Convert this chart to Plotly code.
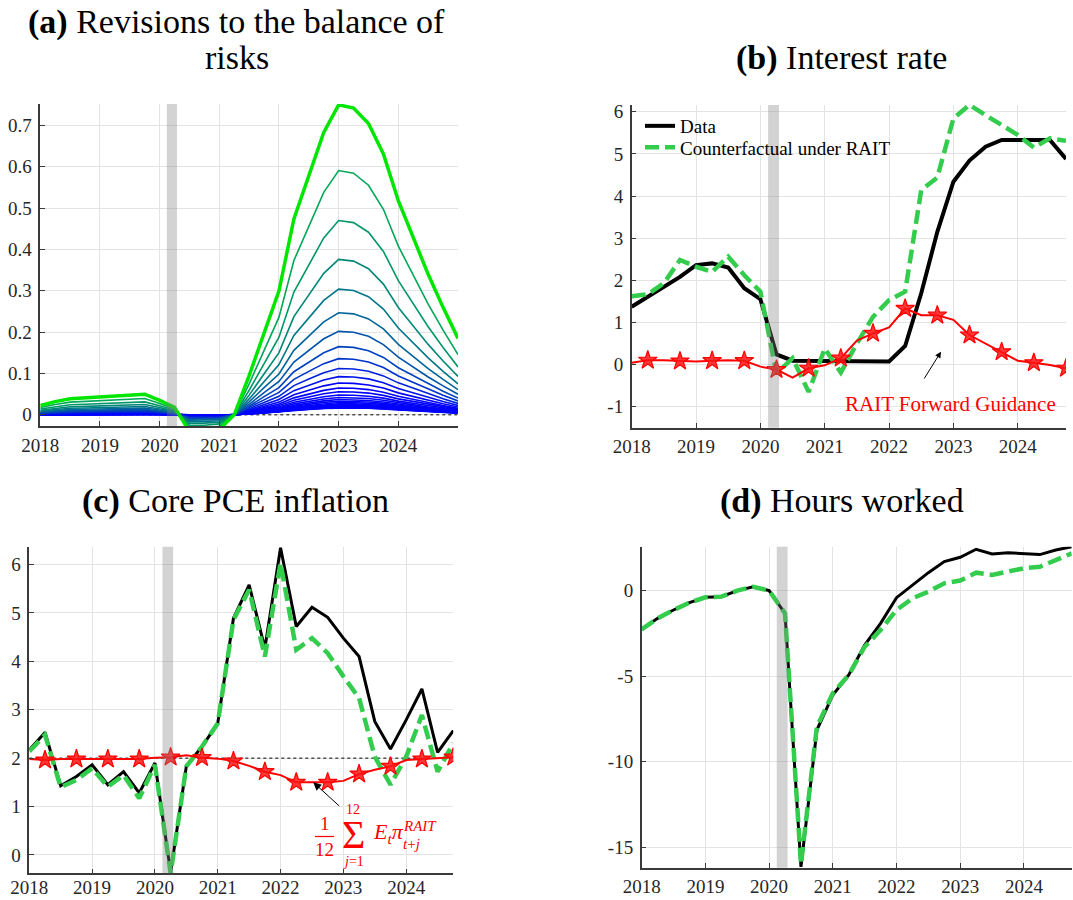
import plotly.graph_objects as go

W, H = 1073, 900

# ---------------- data ----------------
quarters = [2018 + 0.25 * i for i in range(28)]      # 2018Q1 .. 2024Q4
quarters_a = [2018 + 0.25 * i for i in range(29)]    # 2018 .. 2025
year_ticks = [2018, 2019, 2020, 2021, 2022, 2023, 2024]
recession = [2020.12, 2020.29]

# (a) revisions to the balance of risks: outer (largest) profile and the peak of each curve
risk_base = [0.0225, 0.032, 0.039, 0.041, 0.043, 0.044, 0.048, 0.050, 0.035, 0.018,
             -0.040, -0.040, -0.035, 0.000, 0.095, 0.200, 0.300, 0.474, 0.580, 0.683,
             0.750, 0.742, 0.705, 0.631, 0.518, 0.430, 0.340, 0.260, 0.185]
risk_peaks = [0.75, 0.591, 0.470, 0.376, 0.304, 0.247, 0.202, 0.165, 0.136, 0.112,
              0.0925, 0.077, 0.065, 0.056, 0.048, 0.042, 0.037, 0.033, 0.030, 0.027,
              0.025, 0.023, 0.021, 0.020, 0.019, 0.018, 0.017]

# (b) interest rate
rate_data = [1.37, 1.61, 1.85, 2.08, 2.36, 2.40, 2.30, 1.81, 1.55, 0.24, 0.09, 0.09, 0.09, 0.07,
             0.08, 0.08, 0.07, 0.44, 1.69, 3.15, 4.34, 4.84, 5.17, 5.33, 5.33, 5.33, 5.33, 4.88]
rate_cf = [1.62, 1.67, 1.93, 2.48, 2.32, 2.20, 2.56, 2.12, 1.73, -0.21, 0.15, -0.65, 0.38, -0.19,
           0.50, 1.13, 1.53, 1.73, 4.14, 4.44, 5.84, 6.16, 5.92, 5.68, 5.45, 5.15, 5.37, 5.31]
rate_fg = [0.04, 0.10, 0.10, 0.08, 0.07, 0.09, 0.10, 0.09, -0.05, -0.12, -0.31, -0.09, -0.02, 0.15,
           0.57, 0.74, 0.88, 1.33, 1.17, 1.17, 1.06, 0.70, 0.50, 0.30, 0.09, 0.04, -0.01, -0.09]

# (c) core PCE inflation
infl_data = [2.17, 2.53, 1.43, 1.62, 1.86, 1.45, 1.72, 1.28, 1.90, -0.36, 1.83, 2.24, 2.72, 4.89,
             5.58, 4.27, 6.35, 4.72, 5.12, 4.91, 4.48, 4.10, 2.76, 2.19, 2.79, 3.43, 2.12, 2.57]
infl_cf = [2.14, 2.48, 1.40, 1.55, 1.79, 1.41, 1.65, 1.17, 1.86, -0.38, 1.83, 2.24, 2.72, 4.86,
           5.48, 4.10, 6.03, 4.24, 4.48, 4.17, 3.69, 3.24, 2.03, 1.45, 2.03, 2.89, 1.72, 2.31]
infl_fg = [1.98, 1.96, 1.98, 1.98, 1.98, 1.98, 1.98, 1.98, 2.01, 2.02, 2.06, 2.01, 1.99, 1.94,
           1.84, 1.72, 1.65, 1.50, 1.50, 1.50, 1.53, 1.67, 1.76, 1.83, 1.96, 1.98, 1.99, 2.02]
infl_target = 2.0

# (d) hours worked
hours_data = [-2.26, -1.62, -1.13, -0.70, -0.39, -0.35, 0.00, 0.23, 0.00, -1.33, -16.15, -8.15,
              -6.10, -4.93, -3.18, -1.91, -0.41, 0.33, 1.05, 1.70, 1.95, 2.42, 2.15, 2.22, 2.18,
              2.11, 2.38, 2.57]
hours_cf = [-2.26, -1.62, -1.13, -0.70, -0.39, -0.35, 0.00, 0.23, 0.00, -1.33, -16.00, -7.96,
            -6.00, -4.93, -3.28, -2.30, -1.13, -0.45, -0.06, 0.43, 0.59, 1.05, 0.92, 1.11, 1.31,
            1.40, 1.79, 2.18]

# ---------------- style ----------------
FONT = "'Liberation Serif', 'Times New Roman', 'DejaVu Serif', serif"
GREEN = "rgb(51,204,77)"
RED = "#ff0000"
AXC = "#3a3a3a"
GRID = "#e3e3e3"
CF_DASH = "14px,6px"
STAR = dict(symbol="star", size=14, color="rgba(255,20,20,0.85)", line=dict(color=RED, width=1.2))


def px_x(px):
    return px / W


def px_y(py):
    return 1 - py / H


# plot areas in pixels (left, right, top, bottom)
boxes = {
    "a": (40.3, 458.0, 104.0, 426.0),
    "b": (631.7, 1066.0, 105.0, 427.7),
    "c": (29.3, 453.3, 546.7, 873.3),
    "d": (641.7, 1071.7, 546.7, 867.7),
}
axis_ids = {"a": ("x", "y"), "b": ("x2", "y2"), "c": ("x3", "y3"), "d": ("x4", "y4")}
x_standoff = {"a": 1, "b": 1, "c": -4, "d": 1}

fig = go.Figure()

# ---- (a) ----
base_peak = max(risk_base)
n = len(risk_peaks)
for k in reversed(range(n)):
    if k == 0:
        col, wid = "rgb(0,230,0)", 3.5
    else:
        t = min(k / 11.0, 1.0)
        col = "rgb(0,%d,%d)" % (round(185 * (1 - t)), round(70 + 185 * t))
        wid = 1.6
    scale = risk_peaks[k] / base_peak
    fig.add_trace(go.Scatter(x=quarters_a, y=[v * scale for v in risk_base], mode="lines",
                             line=dict(color=col, width=wid), showlegend=False,
                             xaxis="x", yaxis="y", hoverinfo="skip"))

# ---- (b) ----
fig.add_trace(go.Scatter(x=quarters, y=rate_data, mode="lines", name="Data", legend="legend",
                         line=dict(color="black", width=4), xaxis="x2", yaxis="y2"))
fig.add_trace(go.Scatter(x=quarters, y=rate_cf, mode="lines", name="Counterfactual under RAIT",
                         legend="legend2",
                         line=dict(color=GREEN, width=4.5, dash=CF_DASH), xaxis="x2", yaxis="y2"))
fig.add_trace(go.Scatter(x=quarters, y=rate_fg, mode="lines", showlegend=False,
                         line=dict(color=RED, width=2), xaxis="x2", yaxis="y2"))
fig.add_trace(go.Scatter(x=quarters[1::2], y=rate_fg[1::2], mode="markers", showlegend=False,
                         marker=STAR, xaxis="x2", yaxis="y2"))

# ---- (c) ----
fig.add_trace(go.Scatter(x=quarters, y=infl_data, mode="lines", showlegend=False,
                         line=dict(color="black", width=3), xaxis="x3", yaxis="y3"))
fig.add_trace(go.Scatter(x=quarters, y=infl_cf, mode="lines", showlegend=False,
                         line=dict(color=GREEN, width=4.5, dash=CF_DASH), xaxis="x3", yaxis="y3"))
fig.add_trace(go.Scatter(x=quarters, y=infl_fg, mode="lines", showlegend=False,
                         line=dict(color=RED, width=2), xaxis="x3", yaxis="y3"))
fig.add_trace(go.Scatter(x=quarters[1::2], y=infl_fg[1::2], mode="markers", showlegend=False,
                         marker=STAR, xaxis="x3", yaxis="y3"))

# ---- (d) ----
fig.add_trace(go.Scatter(x=quarters, y=hours_data, mode="lines", showlegend=False,
                         line=dict(color="black", width=3), xaxis="x4", yaxis="y4"))
fig.add_trace(go.Scatter(x=quarters, y=hours_cf, mode="lines", showlegend=False,
                         line=dict(color=GREEN, width=4.5, dash=CF_DASH), xaxis="x4", yaxis="y4"))

# ---------------- axes ----------------
yranges = {"a": [-0.027, 0.752], "b": [-1.5, 6.16], "c": [-0.38, 6.37], "d": [-16.2, 2.57]}
xranges = {"a": [2018, 2025], "b": [2018, 2024.75], "c": [2018, 2024.75], "d": [2018, 2024.75]}
yticks = {
    "a": ([0, 0.1, 0.2, 0.3, 0.4, 0.5, 0.6, 0.7], ["0", "0.1", "0.2", "0.3", "0.4", "0.5", "0.6", "0.7"]),
    "b": ([-1, 0, 1, 2, 3, 4, 5, 6], ["-1", "0", "1", "2", "3", "4", "5", "6"]),
    "c": ([0, 1, 2, 3, 4, 5, 6], ["0", "1", "2", "3", "4", "5", "6"]),
    "d": ([-15, -10, -5, 0], ["-15", "-10", "-5", "0"]),
}

layout_axes = {}
for key, (l, r, t, b) in boxes.items():
    xa, ya = axis_ids[key]
    xname = "xaxis" if xa == "x" else "xaxis" + xa[1:]
    yname = "yaxis" if ya == "y" else "yaxis" + ya[1:]
    layout_axes[xname] = dict(
        domain=[px_x(l), px_x(r)], range=xranges[key], anchor=ya, automargin=False,
        tickvals=year_ticks, ticktext=[str(v) for v in year_ticks],
        showgrid=True, gridcolor=GRID, gridwidth=1, zeroline=False,
        showline=True, linecolor=AXC, linewidth=1.5,
        ticks="inside", ticklen=5, tickcolor=AXC, tickwidth=1,
        tickfont=dict(family=FONT, size=19, color="#262626"),
        ticklabelstandoff=x_standoff[key], fixedrange=True,
    )
    tv, tt = yticks[key]
    layout_axes[yname] = dict(
        domain=[px_y(b), px_y(t)], range=yranges[key], anchor=xa, automargin=False,
        tickvals=tv, ticktext=tt,
        showgrid=True, gridcolor=GRID, gridwidth=1, zeroline=False,
        showline=True, linecolor=AXC, linewidth=1.5,
        ticks="inside", ticklen=5, tickcolor=AXC, tickwidth=1,
        tickfont=dict(family=FONT, size=19, color="#262626"),
        ticklabelstandoff=3, fixedrange=True,
    )

# ---------------- shapes ----------------
shapes = []
for key in boxes:
    xa, ya = axis_ids[key]
    shapes.append(dict(type="rect", xref=xa, yref=ya + " domain", x0=recession[0], x1=recession[1],
                       y0=0, y1=1, fillcolor="rgba(128,128,128,0.35)", line=dict(width=0),
                       layer="above"))
shapes.append(dict(type="line", xref="x", yref="y", x0=xranges["a"][0], x1=xranges["a"][1],
                   y0=0, y1=0, line=dict(color="black", width=1, dash="dot"), layer="between"))
shapes.append(dict(type="line", xref="x3", yref="y3", x0=xranges["c"][0], x1=xranges["c"][1],
                   y0=infl_target, y1=infl_target, line=dict(color="black", width=1, dash="dot"),
                   layer="between"))
# fraction bar of the formula label
shapes.append(dict(type="line", xref="paper", yref="paper", x0=px_x(315), x1=px_x(334),
                   y0=px_y(836.5), y1=px_y(836.5), line=dict(color=RED, width=1.2)))

# ---------------- annotations ----------------
ann = []


def text_at(txt, cx, baseline, size, color="black", xanchor="center"):
    # place text so that its baseline sits at pixel row `baseline`
    bottom = baseline + 0.216 * size + 1
    ann.append(dict(text=txt, x=px_x(cx), y=px_y(bottom), xref="paper", yref="paper",
                    xanchor=xanchor, yanchor="bottom", showarrow=False,
                    font=dict(family=FONT, size=size, color=color)))


TS = 34
text_at("<b>(a)</b> Revisions to the balance of", 236.7, 34.5, TS)
text_at("risks", 236.7, 70.0, TS)
text_at("<b>(b)</b> Interest rate", 841.7, 70.5, TS)
text_at("<b>(c)</b> Core PCE inflation", 235.5, 514.0, TS)
text_at("<b>(d)</b> Hours worked", 841.7, 514.0, TS)

text_at("RAIT Forward Guidance", 950.0, 412.0, 21, RED)

# formula label in panel (c)
text_at("1", 324.5, 830.5, 19, RED)
text_at("12", 324.5, 856.5, 19, RED)
text_at("\u03a3", 353.3, 849.5, 40, RED)
text_at("12", 353.3, 815.0, 14, RED)
text_at("<i>j</i>=1", 353.3, 867.0, 14, RED)
text_at("<i>E</i><sub><i>t</i></sub><i>\u03c0</i>", 370.5, 843.0, 22, RED, xanchor="left")
text_at("<i>RAIT</i>", 401.0, 832.0, 15, RED, xanchor="left")
text_at("<i>t</i>+<i>j</i>", 401.0, 850.0, 15, RED, xanchor="left")

# arrows
ann.append(dict(text="", x=px_x(941), y=px_y(351.7), xref="paper", yref="paper",
                ax=-17.7, ay=28.3, showarrow=True, arrowhead=2, arrowsize=1.2, arrowwidth=1,
                arrowcolor="black"))
ann.append(dict(text="", x=px_x(313.3), y=px_y(782.3), xref="paper", yref="paper",
                ax=27.4, ay=25.0, showarrow=True, arrowhead=2, arrowsize=1.6, arrowwidth=1,
                arrowcolor="black"))

LEG = dict(xanchor="left", yanchor="middle", bgcolor="rgba(0,0,0,0)", borderwidth=0,
           font=dict(family=FONT, size=19, color="black"), itemwidth=30)
fig.update_layout(
    width=W, height=H, margin=dict(l=0, r=0, t=0, b=0, autoexpand=False),
    paper_bgcolor="white", plot_bgcolor="white",
    font=dict(family=FONT, color="black"),
    showlegend=True,
    legend=dict(x=px_x(640), y=px_y(126), **LEG),
    legend2=dict(x=px_x(640), y=px_y(147.5), **LEG),
    shapes=shapes, annotations=ann,
    **layout_axes,
)

fig.write_html("out.html")
